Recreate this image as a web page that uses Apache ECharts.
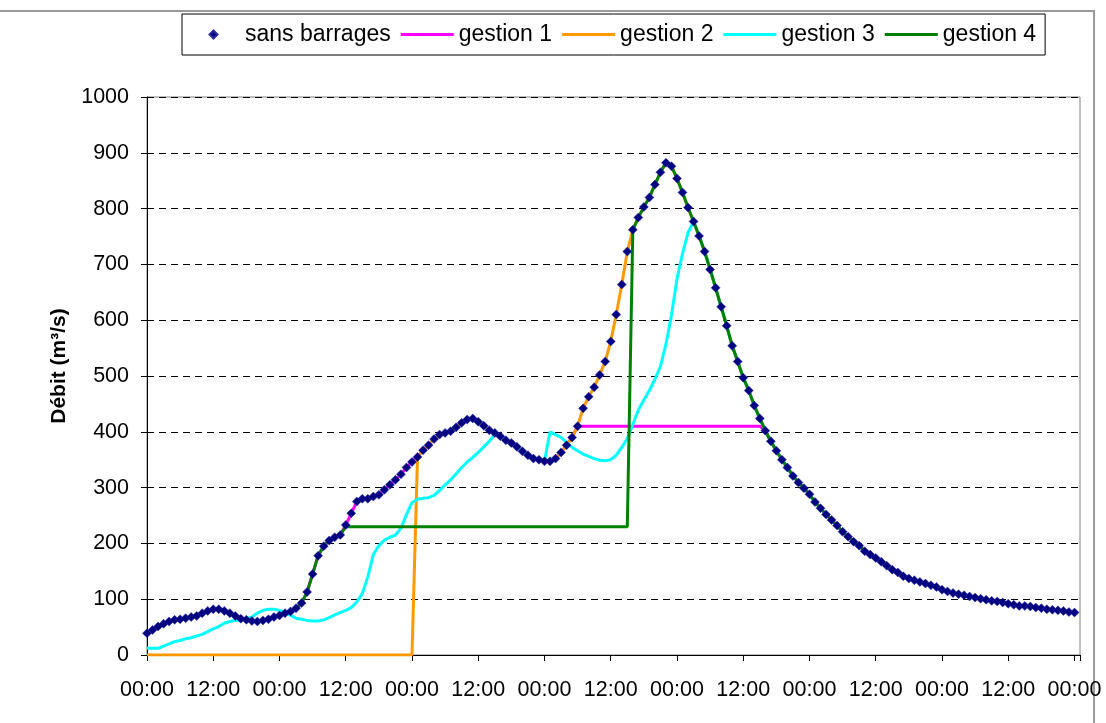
<!DOCTYPE html>
<html><head><meta charset="utf-8">
<script src="https://cdn.jsdelivr.net/npm/echarts@6/dist/echarts.min.js"></script>
<style>html,body{margin:0;padding:0;background:#fff}#c{width:1106px;height:723px}</style>
</head><body><div id="c"></div>
<script>
// x positions: hours from start (hourly samples, 7 days)
const hourCount = 169;
const tickLabels = ['00:00', '12:00'];
const seriesNames = ['sans barrages', 'gestion 1', 'gestion 2', 'gestion 3', 'gestion 4'];

const sansBarrages = [
  39,45,51,56,60,63,64,66,68,70,
  75,79,82,82,79,75,70,65,63,61,
  60,62,64,68,71,75,78,84,93,113,
  145,178,195,205,211,215,233,254,275,280,
  280,284,287,296,305,314,324,336,346,355,
  367,376,387,395,398,401,408,416,422,424,
  418,411,403,398,392,385,380,373,365,358,
  352,350,347,347,352,363,376,390,410,442,
  463,480,502,526,562,610,664,723,762,784,
  803,820,843,865,882,876,854,829,802,777,
  751,723,691,658,624,590,554,526,497,474,
  447,424,402,383,366,350,336,321,309,299,
  288,274,263,252,242,232,221,212,203,196,
  186,180,174,167,160,153,148,141,137,134,
  131,128,125,122,117,114,111,109,107,105,
  103,101,99,97,96,94,92,90,88,88,
  87,85,84,82,81,80,79,77,76
];

const gestion1 = [
  39,45,51,56,60,63,64,66,68,70,
  75,79,82,82,79,75,70,65,63,61,
  60,62,64,68,71,75,78,84,93,113,
  145,178,195,205,211,215,233,254,275,280,
  280,284,287,296,305,314,324,336,346,355,
  367,376,387,395,398,401,408,416,422,424,
  418,411,403,398,392,385,380,373,365,358,
  352,350,347,347,352,363,376,390,410,410,
  410,410,410,410,410,410,410,410,410,410,
  410,410,410,410,410,410,410,410,410,410,
  410,410,410,410,410,410,410,410,410,410,
  410,410,402,383,366,350,336,321,309,299,
  288,274,263,252,242,232,221,212,203,196,
  186,180,174,167,160,153,148,141,137,134,
  131,128,125,122,117,114,111,109,107,105,
  103,101,99,97,96,94,92,90,88,88,
  87,85,84,82,81,80,79,77,76
];

const gestion2 = [
  0,0,0,0,0,0,0,0,0,0,
  0,0,0,0,0,0,0,0,0,0,
  0,0,0,0,0,0,0,0,0,0,
  0,0,0,0,0,0,0,0,0,0,
  0,0,0,0,0,0,0,0,0,355,
  367,376,387,395,398,401,408,416,422,424,
  418,411,403,398,392,385,380,373,365,358,
  352,350,347,347,352,363,376,390,410,442,
  463,480,502,526,562,610,664,723,762,784,
  803,820,843,865,882,876,854,829,802,777,
  751,723,691,658,624,590,554,526,497,474,
  447,424,402,383,366,350,336,321,309,299,
  288,274,263,252,242,232,221,212,203,196,
  186,180,174,167,160,153,148,141,137,134,
  131,128,125,122,117,114,111,109,107,105,
  103,101,99,97,96,94,92,90,88,88,
  87,85,84,82,81,80,79,77,76
];

const gestion3 = [
  12,12,12,16,20,24,26,29,31,34,
  37,42,47,51,57,60,62,63,65,68,
  75,80,82,82,80,76,71,66,64,62,
  61,61,63,67,72,76,80,85,95,110,
  140,180,196,206,211,215,227,252,273,279,
  281,282,286,295,305,314,325,336,346,354,
  363,373,383,395,392,385,380,373,365,358,
  352,350,347,400,395,390,381,372,366,360,
  356,352,349,348,350,358,372,388,413,439,
  457,474,494,517,557,609,674,719,757,777,
  751,723,691,658,624,590,554,526,497,474,
  447,424,402,383,366,350,336,321,309,299,
  288,274,263,252,242,232,221,212,203,196,
  186,180,174,167,160,153,148,141,137,134,
  131,128,125,122,117,114,111,109,107,105,
  103,101,99,97,96,94,92,90,88,88,
  87,85,84,82,81,80,79,77,76
];

const gestion4 = [
  39,45,51,56,60,63,64,66,68,70,
  75,79,82,82,79,75,70,65,63,61,
  60,62,64,68,71,75,78,84,93,113,
  145,178,195,205,211,215,230,230,230,230,
  230,230,230,230,230,230,230,230,230,230,
  230,230,230,230,230,230,230,230,230,230,
  230,230,230,230,230,230,230,230,230,230,
  230,230,230,230,230,230,230,230,230,230,
  230,230,230,230,230,230,230,230,762,784,
  803,820,843,865,882,876,854,829,802,777,
  751,723,691,658,624,590,554,526,497,474,
  447,424,402,383,366,350,336,321,309,299,
  288,274,263,252,242,232,221,212,203,196,
  186,180,174,167,160,153,148,141,137,134,
  131,128,125,122,117,114,111,109,107,105,
  103,101,99,97,96,94,92,90,88,88,
  87,85,84,82,81,80,79,77,76
];

const pairs = arr => arr.map((v, i) => [i, v]);
const FONT = '"Liberation Sans", Arial, sans-serif';
const LINE_ICON = 'path://M0,0L53,0L53,3L0,3Z';

const chart = echarts.init(document.getElementById('c'), null, {renderer: 'canvas'});
const lineSeries = (name, data, color) => ({
  name, type: 'line', data: pairs(data), symbol: 'none', showSymbol: false,
  lineStyle: {color, width: 3}, itemStyle: {color}, animation: false, z: 2
});

chart.setOption({
  animation: false,
  backgroundColor: '#fff',
  textStyle: {fontFamily: FONT},
  grid: {left: 147, top: 97, width: 933, height: 558, show: true, borderColor: '#808080', borderWidth: 1, backgroundColor: 'transparent'},
  graphic: [
    {type: 'polyline', silent: true, z: 0,
     shape: {points: [[0, 11], [1094, 11], [1094, 723]]},
     style: {stroke: '#999', lineWidth: 2, fill: null}}
  ],
  legend: {
    data: seriesNames.map((n, i) => (i === 0
      ? {name: n, lineStyle: {opacity: 0, width: 0}}
      : {name: n, icon: LINE_ICON})),
    left: 182, top: 14,
    itemWidth: 53, itemHeight: 10, itemGap: 10,
    padding: [9, 9, 9, 5],
    symbolKeepAspect: true,
    borderColor: '#000', borderWidth: 1, backgroundColor: '#fff',
    textStyle: {fontFamily: FONT, fontSize: 23, color: '#000'}
  },
  xAxis: {
    type: 'value', min: 0, max: hourCount, interval: 12,
    axisLine: {show: true, lineStyle: {color: '#000', width: 1}},
    axisTick: {show: true, inside: false, length: 6, lineStyle: {color: '#000'}},
    axisLabel: {
      fontFamily: FONT, fontSize: 21.5, color: '#000', margin: 24,
      formatter: v => (v % 24 === 0 ? tickLabels[0] : (v % 24 === 12 ? tickLabels[1] : ''))
    },
    splitLine: {show: false}
  },
  yAxis: {
    type: 'value', min: 0, max: 1000, interval: 100,
    name: 'Débit (m³/s)', nameLocation: 'middle', nameGap: 77, nameRotate: 90,
    nameTextStyle: {fontFamily: FONT, fontSize: 21, fontWeight: 'bold', color: '#000', padding: [0, 0, 0, 20]},
    axisLine: {show: true, lineStyle: {color: '#000', width: 1}},
    axisTick: {show: true, inside: false, length: 6, lineStyle: {color: '#000'}},
    axisLabel: {fontFamily: FONT, fontSize: 21.5, color: '#000', margin: 18, formatter: v => String(v)},
    splitLine: {show: true, lineStyle: {color: '#000', width: 1, type: [7, 5]}}
  },
  series: [
    {
      name: seriesNames[0], type: 'line', data: pairs(sansBarrages),
      symbol: 'diamond', symbolSize: 9, showSymbol: true, showAllSymbol: true,
      lineStyle: {opacity: 0, width: 0},
      itemStyle: {color: '#000080', borderColor: '#2a2aa0', borderWidth: 0.5}, z: 5, animation: false
    },
    lineSeries(seriesNames[1], gestion1, '#FF00FF'),
    lineSeries(seriesNames[2], gestion2, '#FF9900'),
    lineSeries(seriesNames[3], gestion3, '#00FFFF'),
    lineSeries(seriesNames[4], gestion4, '#008000')
  ]
});
</script>
</body></html>
